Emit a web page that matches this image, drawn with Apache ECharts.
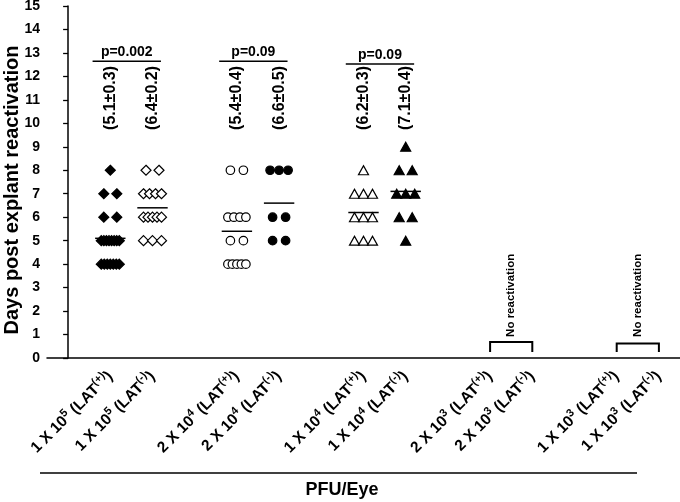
<!DOCTYPE html>
<html><head><meta charset="utf-8">
<script src="https://cdn.jsdelivr.net/npm/echarts@6/dist/echarts.min.js"></script>
<style>html,body{margin:0;padding:0;background:#fff}#c{width:680px;height:502px}</style>
</head><body><div id="c"></div>
<script>
// ---- data ----
const categories = ['', '1 X 10^5 (LAT^(+))', '1 X 10^5 (LAT^(-))', '', '2 X 10^4 (LAT^(+))', '2 X 10^4 (LAT^(-))', '', '1 X 10^4 (LAT^(+))', '1 X 10^4 (LAT^(-))', '', '2 X 10^3 (LAT^(+))', '2 X 10^3 (LAT^(-))', '', '1 X 10^3 (LAT^(+))', '1 X 10^3 (LAT^(-))'];
const yTicks = [0, 15, 1]; // min, max, step
const g1e5Pos = [8, 7, 7, 6, 6, 5, 5, 5, 5, 5, 5, 5, 5, 4, 4, 4, 4, 4, 4, 4];
const g1e5Neg = [8, 8, 7, 7, 7, 7, 6, 6, 6, 6, 6, 5, 5, 5];
const g2e4Pos = [8, 8, 6, 6, 6, 6, 5, 5, 4, 4, 4, 4, 4];
const g2e4Neg = [8, 8, 8, 6, 6, 5, 5];
const g1e4Pos = [8, 7, 7, 7, 6, 6, 6, 5, 5, 5];
const g1e4Neg = [9, 8, 8, 7, 7, 7, 6, 6, 5];
const groupCats = [1, 2, 4, 5, 7, 8];
const groupMeans = [5.1, 6.4, 5.4, 6.6, 6.2, 7.1];
const meanLabels = ['(5.1±0.3)', '(6.4±0.2)', '(5.4±0.4)', '(6.6±0.5)', '(6.2±0.3)', '(7.1±0.4)'];
const pPairs = [[1, 2], [4, 5], [7, 8]];
const pLevels = [12.65, 12.65, 12.53];
const pLabels = ['p=0.002', 'p=0.09', 'p=0.09'];
const noReactPairs = [[10, 11], [13, 14]];
const noReactLevels = [0.68, 0.62];
const noReactText = 'No reactivation';
const yName = 'Days post explant reactivation';
const xName = 'PFU/Eye';

// ---- styling ----
const FF = '"Liberation Sans", Arial, sans-serif';
const BAND_PX = 42.2;
const groups = [g1e5Pos, g1e5Neg, g2e4Pos, g2e4Neg, g1e4Pos, g1e4Neg];
const symbols = [
  {symbol: 'diamond', size: [10, 10], fill: '#000'},
  {symbol: 'diamond', size: [10, 10], fill: '#fff'},
  {symbol: 'circle', size: 8.5, fill: '#fff'},
  {symbol: 'circle', size: 8.5, fill: '#000'},
  {symbol: 'triangle', size: [10, 9], fill: '#fff'},
  {symbol: 'triangle', size: [10, 9], fill: '#000'}
];

function spread(vals, cat) {
  const counts = {};
  vals.forEach(v => counts[v] = (counts[v] || 0) + 1);
  const seen = {};
  return vals.map(v => {
    const n = counts[v];
    const i = seen[v] = (seen[v] === undefined ? 0 : seen[v] + 1);
    const sp = n === 1 ? 0 : (n === 2 ? 13 : 18 / (n - 1));
    const off = (i - (n - 1) / 2) * sp;
    return [cat + off / BAND_PX, v];
  });
}

const series = [];
groups.forEach((vals, k) => {
  const s = symbols[k];
  series.push({
    type: 'scatter', xAxisIndex: 1, yAxisIndex: 0,
    symbol: s.symbol, symbolSize: s.size,
    itemStyle: {color: s.fill, borderColor: '#000', borderWidth: 1.2, opacity: 1},
    data: spread(vals, groupCats[k]), z: 3
  });
});

// mean lines
series.push({
  type: 'custom', xAxisIndex: 1, yAxisIndex: 0, z: 5,
  data: groupCats.map((c, i) => [c, groupMeans[i]]),
  renderItem: (params, api) => {
    const a = api.coord([api.value(0) - 0.36, api.value(1)]);
    const b = api.coord([api.value(0) + 0.36, api.value(1)]);
    return {type: 'line', shape: {x1: a[0], y1: a[1], x2: b[0], y2: b[1]}, style: {stroke: '#000', lineWidth: 1.5}};
  }
});
// mean ± SE labels
series.push({
  type: 'custom', xAxisIndex: 1, yAxisIndex: 0, z: 5,
  data: groupCats.map((c, i) => [c, 11.08]),
  renderItem: (params, api) => {
    const p = api.coord([api.value(0), api.value(1)]);
    return {type: 'text', x: p[0], y: p[1], rotation: Math.PI / 2,
      style: {text: meanLabels[params.dataIndex], align: 'center', verticalAlign: 'middle',
        font: 'bold 16px ' + FF, fill: '#000'}};
  }
});
// p-value brackets
series.push({
  type: 'custom', xAxisIndex: 1, yAxisIndex: 0, z: 5,
  data: pPairs.map((p, i) => [p[0], p[1], pLevels[i]]),
  renderItem: (params, api) => {
    const a = api.coord([api.value(0) - 0.42, api.value(2)]);
    const b = api.coord([api.value(1) + 0.2, api.value(2)]);
    return {type: 'group', children: [
      {type: 'line', shape: {x1: a[0], y1: a[1], x2: b[0], y2: b[1]}, style: {stroke: '#000', lineWidth: 1.5}},
      {type: 'text', x: (a[0] + b[0]) / 2, y: a[1] - 2,
        style: {text: pLabels[params.dataIndex], align: 'center', verticalAlign: 'bottom',
          font: 'bold 14px ' + FF, fill: '#000'}}
    ]};
  }
});
// no reactivation brackets
series.push({
  type: 'custom', xAxisIndex: 1, yAxisIndex: 0, z: 5,
  data: noReactPairs.map((p, i) => [p[0], p[1], noReactLevels[i]]),
  renderItem: (params, api) => {
    const a = api.coord([api.value(0), api.value(2)]);
    const b = api.coord([api.value(1), api.value(2)]);
    const bot = api.coord([api.value(0), 0.26]);
    const t = api.coord([(api.value(0) + api.value(1)) / 2, 0.9]);
    return {type: 'group', children: [
      {type: 'polyline', shape: {points: [[a[0], bot[1]], a, b, [b[0], bot[1]]]}, style: {stroke: '#000', lineWidth: 2, fill: null}},
      {type: 'text', x: t[0], y: t[1], rotation: Math.PI / 2,
        style: {text: noReactText, align: 'left', verticalAlign: 'middle',
          font: 'bold 11.5px ' + FF, fill: '#000'}}
    ]};
  }
});

function fmtLabel(s) {
  if (!s) return '';
  return s.replace(/\^(\([+-]\)|\d)/g, '{s|$1}');
}

const chart = echarts.init(document.getElementById('c'), null, {renderer: 'canvas'});
chart.setOption({
  animation: false,
  backgroundColor: '#fff',
  grid: {left: 47, right: 0, top: 6, bottom: 144, containLabel: false, outerBoundsMode: 'none'},
  xAxis: [{
    type: 'category', data: categories, boundaryGap: true,
    axisLine: {lineStyle: {color: '#000', width: 1.5}},
    axisTick: {alignWithLabel: true, interval: 0, length: 5, lineStyle: {color: '#000', width: 1.3}},
    axisLabel: {interval: 0, rotate: 45, margin: 16, color: '#000', fontWeight: 'bold', fontSize: 15.5,
      fontFamily: FF, lineHeight: 21, formatter: fmtLabel,
      rich: {s: {fontSize: 11, fontWeight: 'bold', fontFamily: FF, color: '#000', verticalAlign: 'top', lineHeight: 11}}},
    splitLine: {show: false}
  }, {
    type: 'value', min: -0.5, max: 14.5, show: false
  }],
  yAxis: {
    type: 'value', min: yTicks[0], max: yTicks[1], interval: yTicks[2],
    name: yName, nameLocation: 'middle', nameRotate: 90, nameGap: 25, nameMoveOverlap: false,
    nameTextStyle: {fontWeight: 'bold', fontSize: 20, fontFamily: FF, color: '#000', padding: [0, 16, 0, 0]},
    axisLine: {show: true, lineStyle: {color: '#000', width: 1.5}},
    axisTick: {show: true, length: 5, lineStyle: {color: '#000', width: 1.3}},
    axisLabel: {color: '#000', fontWeight: 'bold', fontSize: 14, fontFamily: FF, margin: 7},
    splitLine: {show: false}
  },
  graphic: [
    {type: 'line', shape: {x1: 40, y1: 473, x2: 637, y2: 473}, style: {stroke: '#000', lineWidth: 1.3}},
    {type: 'text', x: 342, y: 490, style: {text: xName, align: 'center', verticalAlign: 'middle',
      font: 'bold 18px ' + FF, fill: '#000'}}
  ],
  series: series
});
</script></body></html>
